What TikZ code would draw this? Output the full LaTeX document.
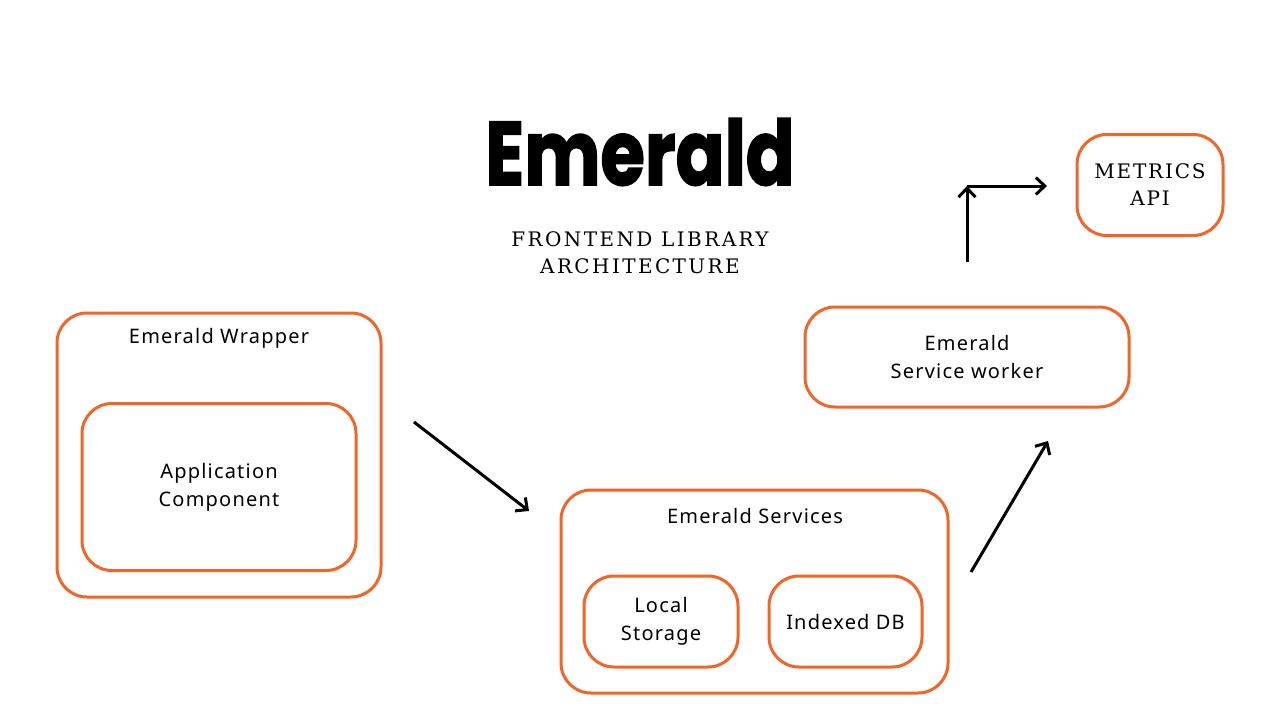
\documentclass[tikz,border=0pt]{standalone}
\usepackage{fontspec}
\setmainfont{Noto Sans}[LetterSpace=6]
\newfontfamily\titlefont{Poppins Bold}[FakeBold=2]
\newfontfamily\slabfont{DejaVu Serif}[LetterSpace=12]
\newfontfamily\metricfont{DejaVu Serif}[LetterSpace=9]
\usepackage{tikz}
\usetikzlibrary{arrows.meta}
\definecolor{emorange}{RGB}{240,102,42}
\tikzset{
    node distance=2cm, % minimum distance between nodes
    }

\begin{document}
\begin{tikzpicture}[x=1pt,y=-1pt,
boxnode/.style={rectangle, rounded corners=30pt, draw=emorange, line width=3pt, inner sep=0pt, align=center, font=\fontsize{20}{28}\selectfont},
labelnode/.style={inner sep=0pt, font=\fontsize{20}{28}\selectfont},
flow/.style={line width=3pt, -{Straight Barb[length=9pt, width=17pt]}},
]
\useasboundingbox (0,0) rectangle (1280,720);

\node[font=\titlefont\fontsize{90}{90}\selectfont, inner sep=0pt] (title) at (640,152) {\scalebox{0.8}[1]{Emerald}};
\node[font=\slabfont\fontsize{20}{27}\selectfont, align=center, inner sep=0pt] (subtitle) at (640,253) {FRONTEND LIBRARY\\ARCHITECTURE};

% wrapper
\node[boxnode, minimum width=324pt, minimum height=284pt] (wrapper) at (219,455) {};
\node[labelnode] (wraplabel) at (219,338) {Emerald Wrapper};
\node[boxnode, minimum width=274pt, minimum height=167pt] (app) at (219,487) {Application\\Component};

% services
\node[boxnode, minimum width=387pt, minimum height=203pt] (services) at (754.5,591.5) {};
\node[labelnode] (servlabel) at (755,516) {Emerald Services};
\node[boxnode, minimum width=154pt, minimum height=91pt] (local) at (661,621.5) {Local\\Storage};
\node[boxnode, minimum width=153pt, minimum height=91pt] (idb) at (845.5,621.5) {Indexed DB};

% service worker and metrics
\node[boxnode, minimum width=324pt, minimum height=100pt] (worker) at (967,357) {Emerald\\Service worker};
\node[boxnode, minimum width=146pt, minimum height=101pt, font=\metricfont\fontsize{20}{27}\selectfont] (metrics) at (1150,185) {METRICS\\API};

% arrows
\coordinate (a1s) at (414,422);
\coordinate (a1e) at (529,511);
\coordinate (a2s) at (971,572);
\coordinate (a2e) at (1048,441);
\coordinate (a3s) at (967,262);
\coordinate (a3c) at (967,186);
\coordinate (a3e) at (1047,186);
\draw[flow] (a1s) -- (a1e);
\draw[flow] (a2s) -- (a2e);
\draw[flow] (a3s) -- (a3c);
\draw[flow] (a3c) -- (a3e);
\end{tikzpicture}
\end{document}
